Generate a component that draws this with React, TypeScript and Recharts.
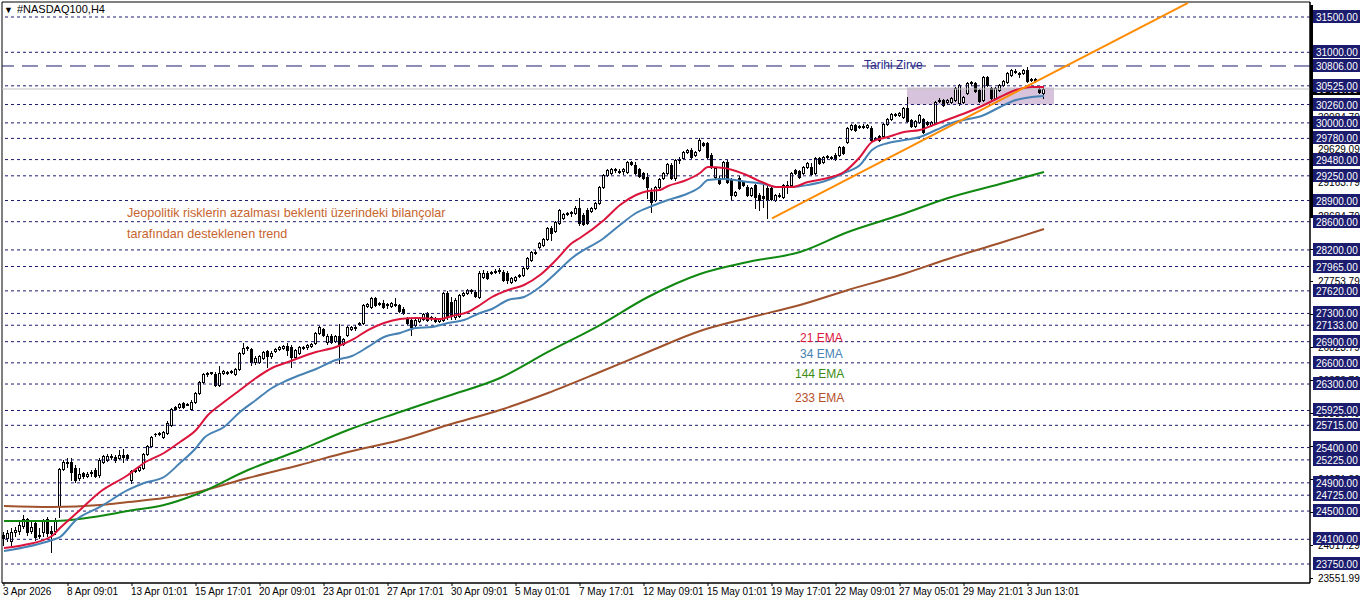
import React from 'react';
import { ComposedChart, Bar, Line, XAxis, YAxis, ReferenceLine, ReferenceArea, ReferenceDot } from 'recharts';

const W = 1362;
const H = 603;
const NAVY = '#1c1c6e';
const FONT = '"Liberation Sans", Arial, sans-serif';

// H4 candles, bar 0 = 3 Apr 2026
const opens = [24161,24119,24076,24204,24218,24289,24387,24218,24331,24147,24204,24387,24218,24218,24572,25097,25196,25196,25111,24968,25039,24997,25039,25082,25011,25196,25224,25280,25266,25252,25294,25294,24940,25068,25082,25111,25308,25422,25592,25592,25550,25606,25719,25975,25975,26031,26017,25946,26045,26173,26329,26442,26456,26442,26286,26456,26470,26470,26442,26513,26739,26810,26796,26612,26612,26669,26768,26697,26768,26796,26810,26839,26825,26683,26739,26825,26825,26839,26881,27023,27079,26895,26980,26909,26980,26867,26994,27079,27108,27150,27165,27405,27391,27519,27448,27448,27420,27405,27434,27420,27363,27221,27207,27136,27193,27221,27306,27250,27235,27193,27207,27590,27462,27250,27264,27561,27590,27618,27604,27533,27816,27873,27873,27887,27901,27887,27873,27745,27774,27830,27844,27943,28057,28170,28241,28269,28354,28510,28468,28581,28652,28709,28723,28723,28794,28694,28766,28751,28794,28865,29091,29261,29289,29346,29318,29318,29303,29445,29403,29346,29289,29233,29021,28907,29091,29219,29289,29403,29219,29474,29502,29587,29616,29545,29616,29715,29715,29545,29233,29219,29219,29445,29191,28978,29219,29162,29091,28978,29119,28978,28964,29077,29077,28907,28978,28950,29119,29119,29332,29318,29289,29375,29375,29289,29502,29445,29517,29517,29545,29545,29658,29729,29913,29970,29942,29956,29942,29927,29786,29814,29814,29984,30055,30125,30111,30083,30210,30041,29956,30012,30055,30012,29970,29998,30310,30324,30295,30295,30324,30281,30295,30423,30565,30565,30466,30324,30650,30494,30352,30466,30537,30579,30678,30735,30692,30707,30749,30607,30622,30480,30423];
const highs = [24204,24232,24261,24275,24346,24444,24402,24346,24360,24261,24387,24416,24289,24402,25111,25224,25252,25252,25153,25111,25054,25054,25082,25111,25252,25294,25308,25308,25294,25365,25379,25308,25082,25097,25139,25323,25436,25564,25606,25620,25635,25776,25961,25989,26031,26045,26031,26074,26187,26343,26456,26470,26470,26470,26555,26499,26485,26499,26527,26754,26881,26839,26810,26697,26711,26768,26782,26768,26810,26839,26853,26881,26853,26796,26839,26839,26867,26881,27037,27122,27094,27009,27009,26994,27150,26952,27122,27122,27136,27179,27434,27448,27533,27533,27462,27490,27448,27462,27519,27434,27391,27250,27221,27221,27250,27306,27320,27264,27250,27235,27604,27618,27533,27519,27576,27604,27646,27646,27632,27901,27915,27901,27901,27929,27943,27915,27901,27816,27830,27859,27958,28099,28184,28199,28312,28369,28525,28539,28610,28780,28723,28737,28751,28822,28935,28723,28794,28808,28879,29105,29275,29346,29360,29360,29346,29360,29460,29460,29445,29360,29303,29289,29077,29105,29219,29303,29431,29431,29488,29517,29602,29630,29644,29602,29786,29729,29729,29573,29375,29247,29460,29474,29219,29035,29247,29176,29119,29091,29134,29007,29119,29105,29091,28992,29007,29134,29176,29303,29346,29332,29389,29445,29431,29517,29517,29531,29545,29531,29573,29672,29672,29942,29984,29984,29970,29984,29984,29956,29800,29828,29998,30069,30139,30139,30154,30224,30366,30055,30041,30125,30069,30026,30026,30310,30352,30338,30338,30366,30508,30551,30380,30579,30593,30579,30480,30664,30664,30508,30508,30551,30607,30721,30763,30763,30721,30763,30791,30636,30636,30494,30508];
const lows = [24019,24076,24019,24147,24175,24261,24161,24189,24090,24119,24147,24147,23921,24175,24416,25082,25125,24940,24912,24940,24968,24983,24997,24983,24983,25181,25210,25238,25196,25238,25196,25224,24897,25054,25068,25097,25294,25408,25564,25578,25536,25592,25705,25932,25961,25961,26003,25932,26031,26159,26314,26414,26442,26272,26272,26442,26442,26456,26428,26499,26725,26782,26569,26584,26598,26654,26541,26669,26754,26782,26796,26711,26541,26669,26725,26796,26796,26825,26867,27009,26980,26867,26881,26895,26598,26853,26980,27065,27065,27136,27150,27391,27377,27405,27420,27377,27377,27391,27405,27320,27292,27150,26994,27122,27179,27207,27193,27207,27179,27179,27193,27221,27221,27221,27250,27547,27576,27590,27533,27519,27802,27788,27859,27873,27873,27760,27731,27731,27760,27816,27830,27929,28043,28142,28227,28255,28341,28341,28454,28567,28638,28694,28680,28709,28553,28553,28567,28737,28780,28850,29077,29247,29275,29303,29289,29275,29289,29403,29275,29233,29205,28935,28737,28893,29077,29205,29275,29205,29191,29431,29488,29573,29502,29531,29602,29672,29502,29360,29219,29134,29205,29148,28907,28964,29063,29105,28964,28964,28794,28766,28808,28652,28907,28893,28950,28935,29007,29105,29275,29219,29275,29360,29261,29275,29417,29431,29502,29488,29474,29531,29559,29715,29899,29885,29927,29927,29927,29743,29757,29743,29800,29970,30041,30097,30097,30069,30012,29942,29942,29998,29856,29970,29956,29984,30295,30239,30281,30281,30310,30253,30281,30409,30537,30437,30295,30310,30522,30338,30338,30451,30522,30565,30664,30707,30650,30692,30579,30593,30579,30423,30352];
const closes = [24119,24189,24204,24232,24303,24387,24204,24275,24133,24161,24374,24189,24189,24374,25097,25196,25182,25054,24940,25025,24997,25025,25054,24997,25224,25280,25280,25266,25224,25294,25266,25252,25068,25082,25125,25308,25422,25550,25590,25606,25620,25748,25946,25946,26017,25975,26003,26045,26173,26329,26442,26456,26470,26286,26456,26485,26456,26485,26513,26739,26810,26825,26612,26669,26697,26754,26697,26739,26796,26825,26839,26782,26683,26782,26825,26810,26853,26867,27023,27108,26994,26980,26895,26980,26867,26938,27108,27108,27094,27165,27420,27434,27519,27420,27434,27391,27434,27448,27420,27335,27306,27165,27108,27207,27235,27292,27207,27235,27193,27221,27590,27264,27264,27490,27561,27590,27632,27632,27547,27873,27873,27802,27887,27901,27915,27774,27774,27802,27816,27844,27943,28085,28170,28156,28298,28354,28510,28440,28596,28766,28709,28723,28737,28794,28581,28567,28581,28794,28865,29091,29261,29332,29346,29332,29303,29346,29445,29417,29289,29247,29219,29091,28879,29091,29205,29289,29417,29219,29474,29488,29587,29616,29517,29587,29757,29686,29517,29375,29360,29148,29445,29162,28978,29021,29077,29119,28978,29077,28950,28907,28935,28907,28921,28978,28964,29119,29091,29289,29289,29233,29375,29431,29275,29502,29431,29517,29531,29502,29488,29658,29573,29927,29970,29899,29956,29942,29970,29757,29772,29757,29984,30055,30125,30111,30139,30210,30026,29956,30026,30111,29871,29984,30012,30295,30324,30253,30324,30352,30494,30537,30366,30565,30579,30451,30310,30650,30537,30352,30494,30537,30593,30707,30749,30721,30707,30749,30593,30622,30593,30437,30480];

// EMA readings [bar, value]
const ema21Pts = [[0,23977],[5,24019],[12,24147],[14,24260],[19,24515],[24,24770],[31,25011],[35,25181],[40,25323],[44,25479],[48,25649],[51,25861],[55,26045],[59,26215],[63,26385],[67,26527],[71,26612],[78,26754],[83,26825],[87,26924],[91,27065],[95,27165],[99,27221],[103,27235],[109,27221],[112,27264],[116,27320],[119,27420],[122,27533],[126,27632],[130,27703],[134,27844],[138,28057],[142,28298],[144,28369],[150,28624],[154,28836],[158,28978],[161,29035],[164,29049],[166,29106],[170,29176],[174,29290],[176,29375],[180,29361],[185,29276],[190,29148],[193,29092],[197,29092],[201,29162],[206,29219],[210,29304],[214,29517],[217,29729],[221,29800],[225,29871],[229,29899],[233,29984],[237,30069],[241,30154],[245,30253],[249,30367],[253,30466],[257,30508],[260,30508]];
const ema34Pts = [[0,23934],[12,24090],[14,24133],[18,24374],[24,24558],[31,24799],[35,24898],[40,24983],[44,25181],[48,25394],[50,25535],[55,25691],[59,25904],[63,26074],[67,26244],[71,26357],[78,26513],[83,26640],[87,26697],[91,26825],[95,26966],[99,27023],[103,27094],[107,27108],[111,27165],[115,27207],[119,27306],[122,27363],[126,27490],[130,27533],[134,27674],[138,27873],[142,28085],[150,28369],[154,28553],[158,28723],[162,28822],[166,28907],[170,28978],[174,29092],[176,29191],[180,29205],[186,29162],[190,29134],[193,29092],[197,29092],[201,29120],[206,29191],[210,29290],[214,29403],[217,29616],[221,29715],[225,29757],[229,29800],[233,29899],[237,29998],[245,30111],[249,30225],[253,30324],[257,30367],[260,30381]];
const ema144Pts = [[0,24359],[12,24359],[24,24430],[31,24501],[40,24586],[48,24735],[61,25082],[74,25365],[86,25649],[99,25904],[111,26131],[124,26385],[136,26754],[149,27136],[161,27533],[174,27859],[186,28029],[199,28171],[211,28454],[224,28694],[236,28936],[249,29134],[260,29304]];
const ema233Pts = [[0,24572],[12,24558],[24,24586],[31,24628],[40,24685],[48,24765],[61,24969],[74,25153],[86,25337],[99,25507],[111,25719],[124,25932],[136,26173],[149,26470],[161,26754],[174,27052],[186,27236],[199,27420],[211,27632],[224,27844],[236,28072],[249,28298],[260,28496]];

const levels = [31500,31000,30525,30260,30000,29780,29480,29250,28900,28600,28200,27965,27620,27300,27133,26900,26600,26300,25925,25715,25400,25225,24900,24725,24500,24100,23750];
const athLevel = 30806;
const bidPrice = 30480;
const scaleTicks = [23551.99,24017.29,24484.59,24951.89,25419.19,25886.49,26353.79,26823.79,27288.79,27753.79,28218.79,28684.79,29163.79,29629.09,30084.79,30549.79,31014.79,31479.79];
const dateTicks = [0,16,32,48,64,80,96,112,128,144,160,176,192,208,224,240,256];
const dateLabels = ['3 Apr 2026','8 Apr 09:01','13 Apr 01:01','15 Apr 17:01','20 Apr 09:01','23 Apr 01:01','27 Apr 17:01','30 Apr 09:01','5 May 01:01','7 May 17:01','12 May 09:01','15 May 01:01','19 May 17:01','22 May 09:01','27 May 05:01','29 May 21:01','3 Jun 13:01'];

const trendFrom = { x: 192, y: 28648 };
const trendTo = { x: 296, y: 31700 };
const zone = { x1: 225.75, x2: 262.5, y1: 30260, y2: 30500 };

const notes = [
  { text: 'Tarihi Zirve', i: 215, price: 30820, color: '#2b2b8a' },
  { text: 'Jeopolitik risklerin azalması beklenti üzerindeki bilançolar', i: 30.75, price: 28723, color: '#c8642d' },
  { text: 'tarafından desteklenen trend', i: 30.75, price: 28426, color: '#c8642d' },
  { text: '21 EMA', i: 199, price: 26952, color: '#dc143c' },
  { text: '34 EMA', i: 199, price: 26726, color: '#4682b4' },
  { text: '144 EMA', i: 197.75, price: 26442, color: '#3c8c14' },
  { text: '233 EMA', i: 197.75, price: 26102, color: '#b5502a' },
];

const rows: any[] = opens.map((o, i) => ({
  i,
  open: o,
  high: highs[i],
  low: lows[i],
  close: closes[i],
  range: [lows[i], highs[i]],
}));
const attach = (pts: number[][], key: string) => pts.forEach(([i, v]) => { rows[i][key] = v; });
attach(ema21Pts, 'ema21');
attach(ema34Pts, 'ema34');
attach(ema144Pts, 'ema144');
attach(ema233Pts, 'ema233');

function Candle(props: any) {
  let { x, y, width, height, payload } = props;
  if (!payload || x == null) return null;
  if (height < 0) { y += height; height = -height; }
  const { open, close, high, low } = payload;
  const cx = Math.floor(x + width / 2) + 0.5;
  const k = height / (high - low || 1);
  const yo = y + (high - open) * k;
  const yc = y + (high - close) * k;
  const top = Math.round(Math.min(yo, yc)) + 0.5;
  const bot = Math.round(Math.max(yo, yc)) + 0.5;
  const up = close > open;
  return (
    <g shapeRendering="crispEdges">
      <line x1={cx} x2={cx} y1={Math.round(y)} y2={Math.round(y + height) + 1} stroke="#000" />
      {bot - top < 1 ? (
        <line x1={cx - 1.5} x2={cx + 1.5} y1={top} y2={top} stroke="#000" />
      ) : (
        <rect x={cx - 1} y={top} width={2} height={bot - top} fill={up ? '#fff' : '#000'} stroke="#000" />
      )}
    </g>
  );
}

function DateTick(props: any) {
  const { x, y, payload } = props;
  const idx = dateTicks.indexOf(payload.value);
  return (
    <g>
      <line x1={x} x2={x} y1={y} y2={y + 3} stroke="#000" />
      <text x={x - 1} y={y + 12} fontSize={10} fontFamily={FONT} fill="#000">{dateLabels[idx]}</text>
    </g>
  );
}

// default price-scale labels, drawn before the level boxes so those cover them
function ScaleLabel(props: any) {
  const { viewBox, price } = props;
  if (!viewBox) return null;
  const x0 = viewBox.x + viewBox.width;
  const y0 = Math.round(viewBox.y) + 0.5;
  return (
    <g>
      <line x1={x0} x2={x0 + 3} y1={y0} y2={y0} stroke="#000" />
      <text x={x0 + 8} y={y0 + 3.5} fontSize={10} fontFamily={FONT} fill="#000">{price.toFixed(2)}</text>
    </g>
  );
}

function LevelLabel(props: any) {
  const { viewBox, price, bg } = props;
  if (!viewBox) return null;
  const x0 = viewBox.x + viewBox.width + 3;
  const y0 = Math.round(viewBox.y);
  return (
    <g>
      <rect x={x0} y={y0 - 7} width={47} height={13} fill={bg || NAVY} />
      <text x={x0 + 3} y={y0 + 4} fontSize={10} fontFamily={FONT} fill="#fff">{price.toFixed(2)}</text>
    </g>
  );
}

function NoteText(props: any) {
  const { cx, cy, note } = props;
  return (
    <text x={cx} y={cy} dominantBaseline="central" fontSize={note.text.length > 20 ? 12.6 : 12} fontFamily={FONT} fill={note.color}>{note.text}</text>
  );
}

export default function App() {
  return (
    <div style={{ position: 'absolute', left: 0, top: 0, width: W, height: H, background: '#fff', overflow: 'hidden' }}>
      <ComposedChart width={W} height={H} data={rows} margin={{ top: 2, right: 0, bottom: 0, left: 2 }}>
        <XAxis
          dataKey="i"
          type="number"
          domain={[-0.5, 326.5]}
          ticks={dateTicks}
          tick={<DateTick />}
          tickLine={false}
          tickSize={0}
          tickMargin={0}
          axisLine={{ stroke: '#000' }}
          height={20}
          allowDataOverflow
          interval={0}
        />
        <YAxis
          orientation="right"
          type="number"
          domain={[23481, 31712.6]}
          tick={false}
          tickLine={false}
          axisLine={{ stroke: '#000' }}
          width={52}
          allowDataOverflow
        />
        <ReferenceArea x1={zone.x1} x2={zone.x2} y1={zone.y1} y2={zone.y2} fill="#d8c3dc" fillOpacity={1} stroke="none" />
        <ReferenceArea x1={-0.5} x2={326.5} y1={23481} y2={31712.6} fill="none" stroke="#000" />
        {scaleTicks.map((v) => (
          <ReferenceLine key={'s' + v} y={v} stroke="none" label={<ScaleLabel price={v} />} />
        ))}
        <ReferenceLine y={bidPrice} stroke="#c0c0c0" label={<LevelLabel price={bidPrice} bg="#000" />} />
        {levels.map((v) => (
          <ReferenceLine key={v} y={v} stroke={NAVY} strokeDasharray="3 3" label={<LevelLabel price={v} />} />
        ))}
        <ReferenceLine y={athLevel} stroke={NAVY} strokeDasharray="16 8" label={<LevelLabel price={athLevel} />} />
        <Bar dataKey="range" barSize={3} shape={<Candle />} isAnimationActive={false} />
        <Line type="monotone" dataKey="ema233" stroke="#a0522d" strokeWidth={2} dot={false} connectNulls isAnimationActive={false} />
        <Line type="monotone" dataKey="ema144" stroke="#118811" strokeWidth={2} dot={false} connectNulls isAnimationActive={false} />
        <Line type="monotone" dataKey="ema34" stroke="#4682b4" strokeWidth={2} dot={false} connectNulls isAnimationActive={false} />
        <Line type="monotone" dataKey="ema21" stroke="#dc143c" strokeWidth={2} dot={false} connectNulls isAnimationActive={false} />
        <ReferenceLine segment={[trendFrom, trendTo]} stroke="#ff8c00" strokeWidth={2} />
        {notes.map((n) => (
          <ReferenceDot key={n.text} x={n.i} y={n.price} r={0} shape={(p: any) => <NoteText {...p} note={n} />} />
        ))}
      </ComposedChart>
      <div style={{ position: 'absolute', left: 1310, top: 5, width: 3, height: 213, background: '#000' }} />
      <div style={{ position: 'absolute', left: 4, top: 3, fontFamily: FONT, fontSize: 11, color: '#000', whiteSpace: 'nowrap' }}>
        <span style={{ fontSize: 9, marginRight: 4 }}>▼</span>#NASDAQ100,H4
      </div>
    </div>
  );
}
